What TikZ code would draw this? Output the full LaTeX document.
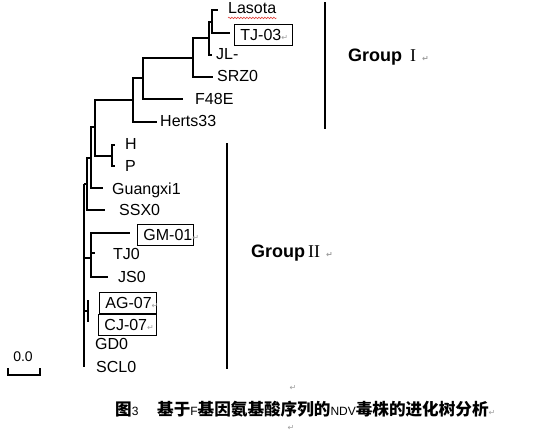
\documentclass[tikz,border=0pt]{standalone}
\usepackage{fontspec}
\setmainfont{Liberation Sans}
\newfontfamily\romanfont{Liberation Serif}
\newfontfamily\cjkfont{Noto Sans CJK SC}
\newfontfamily\markfont{DejaVu Sans}
\usepackage{xcolor}
\usepackage{tikz}
\usetikzlibrary{calc,decorations.pathmorphing}
\definecolor{Ink}{HTML}{000000}
\definecolor{MarkGrey}{HTML}{9C9C9C}
\definecolor{SpellRed}{HTML}{E0403A}
\newcommand{\parmark}{{\markfont\color{MarkGrey}\fontsize{8}{8}\selectfont ↵}}
\newcommand{\thinlatin}[1]{{\fontsize{12}{12}\selectfont #1}}
\newcommand{\cjkbold}[1]{{\cjkfont\bfseries\fontsize{16.6}{16.6}\selectfont #1}}
\tikzset{
  branch/.style={draw=Ink,line width=2pt},
  clade/.style={draw=Ink,line width=2.4pt},
  taxon/.style={anchor=west,inner sep=0pt,text height=11.5pt,text depth=0pt,font=\fontsize{16}{16}\selectfont},
  tagbox/.style={draw=Ink,line width=.9pt,anchor=west,inner xsep=6pt,inner ysep=0pt,minimum height=21pt,align=left,text width=#1,font=\fontsize{16}{16}\selectfont},
  cladename/.style={anchor=base west,inner sep=0pt,font=\bfseries\fontsize{18}{18}\selectfont},
  scalelab/.style={inner sep=0pt,font=\fontsize{14}{14}\selectfont},
  figcap/.style={anchor=west,inner sep=0pt,font=\fontsize{16}{16}\selectfont},
  spell/.style={draw=SpellRed,line width=.6pt,decorate,decoration={snake,amplitude=.8pt,segment length=3pt}},
  bar/.style={draw=Ink,line width=2pt}
}

\begin{document}
\begin{tikzpicture}[x=1pt,y=-1pt]
  \useasboundingbox (0,0) rectangle (543,432);
  \node[taxon] (las) at (228,8) {Lasota};
  \node[tagbox=46pt] (tj3) at (234,34.5) {\mbox{TJ-03\parmark}};
  \node[taxon] (jl) at (216,54) {JL-};
  \node[taxon] (srz) at (217,76) {SRZ0};
  \node[taxon] (f48) at (195,99) {F48E};
  \node[taxon] (her) at (160,121) {Herts33};
  \node[taxon] (h) at (125,144) {H};
  \node[taxon] (p) at (125,166) {P};
  \node[taxon] (gx) at (112,189) {Guangxi1};
  \node[taxon] (ssx) at (119,210) {SSX0};
  \node[tagbox=44pt] (gm) at (137,235) {\mbox{GM-01\parmark}};
  \node[taxon] (tj0) at (113,254) {TJ0};
  \node[taxon] (js) at (118,277) {JS0};
  \node[tagbox=45pt] (ag) at (99,302.5) {\mbox{AG-07\parmark}};
  \node[tagbox=46pt] (cj) at (98,325) {\mbox{CJ-07\parmark}};
  \node[taxon] (gd) at (95,344) {GD0};
  \node[taxon] (scl) at (96,367) {SCL0};
  \draw[spell] (las.south west) ++(0,4) -- ($(las.south east)+(0,4)$);
  \coordinate (lasT) at (218,10);
  \coordinate (tj3T) at (230,33);
  \coordinate (jlT) at (212,55);
  \coordinate (srzT) at (213,77);
  \coordinate (f48T) at (183,99);
  \coordinate (herT) at (157,122);
  \coordinate (hT) at (115,145);
  \coordinate (pT) at (115,166);
  \coordinate (gxT) at (103,188);
  \coordinate (ssxT) at (105,210);
  \coordinate (gmT) at (130,233);
  \coordinate (tj0T) at (95,253);
  \coordinate (jsT) at (108,277);
  \coordinate (agT) at (88,300);
  \coordinate (cjT) at (88,322);
  \coordinate (nLT) at (212,21.5);
  \coordinate (nLTJ) at (209,38);
  \coordinate (nS) at (193,57.5);
  \coordinate (nF) at (143,78);
  \coordinate (nH) at (133,100);
  \coordinate (nHP) at (112,155.5);
  \coordinate (nA) at (95,127);
  \coordinate (nG) at (91,157.5);
  \coordinate (nX) at (87,184);
  \coordinate (nGT) at (91,258);
  \coordinate (nAC) at (88,311);
  \coordinate (rootTop) at (84,184);
  \coordinate (rootBot) at (84,367);
  \draw[branch] (nLT) |- (lasT) (nLT) |- (tj3T);
  \draw[branch] (nLTJ) |- (nLT) (nLTJ) |- (jlT);
  \draw[branch] (nS) |- (nLTJ) (nS) |- (srzT);
  \draw[branch] (nF) |- (nS) (nF) |- (f48T);
  \draw[branch] (nH) |- (nF) (nH) |- (herT);
  \draw[branch] (nHP) |- (hT) (nHP) |- (pT);
  \draw[branch] (nA) |- (nH) (nA) |- (nHP);
  \draw[branch] (nG) |- (nA) (nG) |- (gxT);
  \draw[branch] (nX) |- (nG) (nX) |- (ssxT);
  \draw[branch] (rootTop) -- (rootBot);
  \draw[branch] (rootTop) -- (nX);
  \draw[branch] (rootTop |- nGT) -- (nGT);
  \draw[branch] (nGT) |- (gmT) (nGT) |- (tj0T) (nGT) |- (jsT);
  \draw[branch] (rootTop |- nAC) -- (nAC);
  \draw[branch] (nAC) |- (agT) (nAC) |- (cjT);
  \coordinate (g1top) at (325,2);
  \coordinate (g1bot) at (325,129);
  \coordinate (g2top) at (227,143);
  \coordinate (g2bot) at (227,369);
  \draw[clade] (g1top) -- (g1bot);
  \draw[clade] (g2top) -- (g2bot);
  \node[cladename] (grp1) at (348,61) {Group\hspace{8pt}{\romanfont\mdseries I}\hspace{6pt}\parmark};
  \node[cladename] (grp2) at (251,257) {Group\hspace{3pt}{\romanfont\mdseries II}\hspace{6pt}\parmark};
  \node[scalelab] (sl) at (23,357) {0.0};
  \coordinate (sbL) at (8,375);
  \coordinate (sbR) at (40,375);
  \draw[bar] ($(sbL)+(0,-7)$) -- (sbL) -- (sbR) -- ++(0,-7);
  \node[figcap] (cap) at (115,409) {\cjkbold{图}\thinlatin{3}\hspace{18.7pt}\cjkbold{基于}\thinlatin{F}\cjkbold{基因氨基酸序列的}\thinlatin{NDV}\cjkbold{毒株的进化树分析}\parmark};
  \node[inner sep=0pt] (pm1) at (293,388) {\parmark};
  \node[inner sep=0pt] (pm2) at (291,428) {\parmark};
\end{tikzpicture}
\end{document}
